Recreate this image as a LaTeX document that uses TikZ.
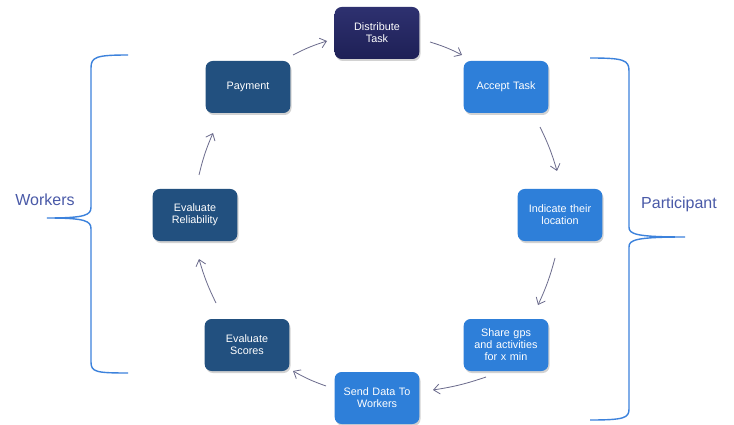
\documentclass[tikz,border=0pt]{standalone}
\usepackage{fontspec}
\setmainfont{Liberation Sans}
\usetikzlibrary{arrows.meta,shadows}
\definecolor{navy}{HTML}{1E2056}
\definecolor{navytop}{HTML}{2E3170}
\definecolor{steel}{HTML}{22507F}
\definecolor{bright}{HTML}{2E7FD9}
\definecolor{arrowc}{HTML}{6B6B8C}
\definecolor{bracec}{HTML}{3C82DC}
\definecolor{labelc}{HTML}{4A5AA8}
\tikzset{
  box/.style={rounded corners=7pt, minimum width=80pt, minimum height=52pt,
    text width=78pt, align=center, text=white, font=\fontsize{10.8}{12}\selectfont,
    drop shadow={shadow xshift=1.2pt, shadow yshift=-2pt, opacity=0.35}},
  darkbox/.style={box, top color=navytop, bottom color=navy},
  steelbox/.style={box, fill=steel},
  brightbox/.style={box, fill=bright},
  flow/.style={draw=arrowc, line width=0.8pt, -{Straight Barb[length=6pt,width=10pt]}},
  brace/.style={draw=bracec, line width=1.4pt},
  side/.style={text=labelc, font=\fontsize{16}{18}\selectfont}
}
\begin{document}
\begin{tikzpicture}[x=1pt,y=-1pt]
\useasboundingbox (0,0) rectangle (734,425);
\fill[white] (0,0) rectangle (734,425);
% boxes
\node[darkbox]   (dist)  at (377,33)  {Distribute\\Task};
\node[steelbox]  (pay)   at (248,87)  {Payment};
\node[brightbox] (acc)   at (506,87)  {Accept Task};
\node[steelbox]  (rel)   at (195,215) {Evaluate\\Reliability};
\node[brightbox] (loc)   at (560,215) {Indicate their\\location};
\node[steelbox]  (score) at (247,345) {Evaluate\\Scores};
\node[brightbox] (share) at (506,345) {Share gps\\and activities\\for x min};
\node[brightbox] (send)  at (377,398) {Send Data To\\Workers};
% arrow endpoints
\coordinate (a1s) at (293,55);  \coordinate (a1e) at (327,41);
\coordinate (a2s) at (430,42);  \coordinate (a2e) at (462,55);
\coordinate (a3s) at (540,127); \coordinate (a3e) at (557,171);
\coordinate (a4s) at (555,258); \coordinate (a4e) at (538,305);
\coordinate (a5s) at (486,377); \coordinate (a5e) at (433,390);
\coordinate (a6s) at (326,386); \coordinate (a6e) at (293,371);
\coordinate (a7s) at (216,303); \coordinate (a7e) at (199,259);
\coordinate (a8s) at (199,175); \coordinate (a8e) at (213,133);
\draw[flow] (a1s) to[bend left=5] (a1e);
\draw[flow] (a2s) to[bend left=5] (a2e);
\draw[flow] (a3s) to[bend left=5] (a3e);
\draw[flow] (a4s) to[bend left=5] (a4e);
\draw[flow] (a5s) to[bend left=5] (a5e);
\draw[flow] (a6s) to[bend left=5] (a6e);
\draw[flow] (a7s) to[bend left=5] (a7e);
\draw[flow] (a8s) to[bend left=5] (a8e);
% braces
\coordinate (lt) at (128,55);
\coordinate (ltip) at (47,218);
\coordinate (lb) at (128,373);
\draw[brace] (lt) .. controls (96,55) and (91,57) .. (91,68) -- (91,207)
  .. controls (91,215) and (86,218) .. (ltip)
  .. controls (86,218) and (91,221) .. (91,229) -- (91,362)
  .. controls (91,372) and (96,373) .. (lb);
\coordinate (rt) at (590,58);
\coordinate (rtip) at (685,237);
\coordinate (rb) at (590,420);
\draw[brace] (rt) .. controls (624,58) and (629,60) .. (629,71) -- (629,227)
  .. controls (629,234) and (635,237) .. (rtip)
  .. controls (635,237) and (629,240) .. (629,247) -- (629,409)
  .. controls (629,418) and (624,420) .. (rb);
% side labels
\node[side] (wk) at (45,200) {Workers};
\node[side] (pt) at (679,204) {Participant};
\end{tikzpicture}
\end{document}
